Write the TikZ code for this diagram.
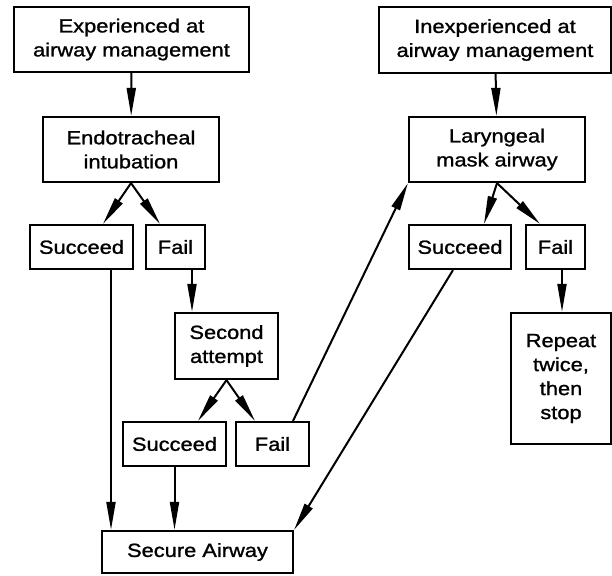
\documentclass[tikz,border=0pt]{standalone}
\usepackage{fontspec}
\setmainfont{Liberation Sans}[FakeStretch=1.15,FakeBold=1.2]
\usepackage{tikz}
\usetikzlibrary{arrows.meta,calc}

\begin{document}
\begin{tikzpicture}[x=1pt,y=-1pt,
    box/.style={draw,line width=2.2pt,align=center,inner sep=0pt,
      font=\fontsize{19}{24}\selectfont},
    arr/.style={line width=2pt,-{Triangle[length=28pt,width=9pt]}}]
    \useasboundingbox[fill=white] (0,0) rectangle (612,575);

    % Experienced side
    \node[box,minimum width=235,minimum height=65] (exp) at (131.5,39.5) {Experienced at\\airway management};
    \node[box,minimum width=176,minimum height=65] (eti) at (131,149.5) {Endotracheal\\intubation};
    \node[box,minimum width=103,minimum height=44] (suc1) at (81.5,247) {Succeed};
    \node[box,minimum width=59,minimum height=44] (fail1) at (175.5,247) {Fail};
    \node[box,minimum width=103,minimum height=66] (second) at (226.5,346) {Second\\attempt};
    \node[box,minimum width=103,minimum height=44] (suc2) at (174.5,444) {Succeed};
    \node[box,minimum width=73,minimum height=44] (fail2) at (272.5,444) {Fail};

    % Result
    \node[box,minimum width=191,minimum height=42] (secure) at (197.5,552) {Secure Airway};

    % Inexperienced side
    \node[box,minimum width=232,minimum height=66] (inexp) at (495,40) {Inexperienced at\\airway management};
    \node[box,minimum width=176,minimum height=65] (lma) at (497,149.5) {Laryngeal\\mask airway};
    \node[box,minimum width=102,minimum height=44] (suc3) at (460,247) {Succeed};
    \node[box,minimum width=59,minimum height=44] (fail3) at (555.5,247) {Fail};
    \node[box,minimum width=100,minimum height=131] (repeat) at (561,378.5) {Repeat\\twice,\\then\\stop};

    % Arrows, left
    \draw[arr] (exp) -- (eti);
    \draw[arr] (eti.south) -- ([xshift=21.5]suc1.north);
    \draw[arr] (eti.south) -- ([xshift=-15.5]fail1.north);
    \draw[arr] ([xshift=29.5]suc1.south) coordinate (s1) -- (s1 |- secure.north);
    \draw[arr] ([xshift=16.5]fail1.south) coordinate (f1) -- (f1 |- second.north);
    \draw[arr] (second.south) -- ([xshift=23.5]suc2.north);
    \draw[arr] (second.south) -- ([xshift=-17.5]fail2.north);
    \draw[arr] (suc2.south) -- (suc2.south |- secure.north);
    \draw[arr] ([xshift=20.5]fail2.north) -- (lma.south west);

    % Arrows, right
    \draw[arr] (inexp) -- (lma);
    \draw[arr] (lma.south) -- ([xshift=24]suc3.north);
    \draw[arr] (lma.south) -- ([xshift=-15.5]fail3.north);
    \draw[arr] ([xshift=6.5]fail3.south) coordinate (f3) -- (f3 |- repeat.north);
    \draw[arr] ([xshift=-7]suc3.south) -- (secure.north east);
\end{tikzpicture}
\end{document}
